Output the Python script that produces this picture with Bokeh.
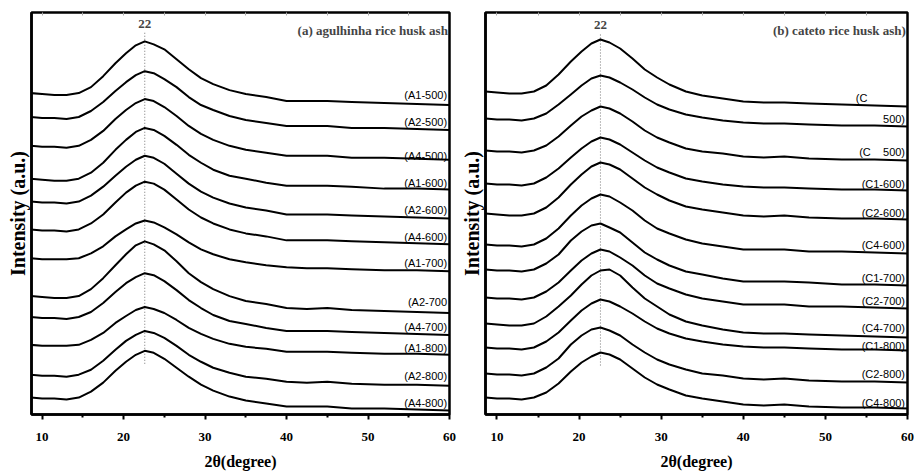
from bokeh.plotting import figure
from bokeh.layouts import row
from bokeh.models import Range1d, FixedTicker, LinearAxis, Label
from bokeh.core.properties import value
from bokeh.embed import file_html
from bokeh.resources import INLINE

# ---------------- data (intensity in arbitrary units, curves stacked) ----------------
two_theta = [8.6, 10, 11.5, 13, 14.5, 16, 17.5, 19, 20.3, 21.5, 22.6, 23.7, 25, 26.5,
             28, 29.5, 31, 33, 35, 37.5, 40, 42.5, 45, 48, 52, 56, 60]
x_ticks = [10, 20, 30, 40, 50, 60]
x_minor = [15, 25, 35, 45, 55]
top_ticks = [10, 15, 20, 25, 30, 35, 40, 45, 50, 55]
peak_pos = 22.6

A1_500 = [327, 326, 325, 325, 327, 333, 344, 357, 367, 375, 379, 376, 371, 361, 351, 342, 336, 330, 326, 323, 319, 319, 319, 318, 317, 316, 315]
A2_500 = [303, 302, 302, 301, 303, 309, 318, 329, 338, 345, 349, 347, 341, 333, 323, 315, 310, 304, 300, 297, 294, 294, 294, 292, 292, 291, 290]
A4_500 = [274, 273, 273, 272, 274, 280, 289, 301, 310, 317, 321, 319, 313, 304, 294, 286, 280, 274, 270, 267, 264, 264, 264, 262, 262, 261, 260]
A1_600 = [241, 240, 239, 239, 241, 247, 257, 270, 280, 288, 292, 290, 284, 275, 265, 257, 250, 244, 241, 237, 234, 234, 234, 233, 231, 231, 230]
A2_600 = [218, 217, 217, 216, 218, 224, 233, 244, 253, 260, 264, 262, 256, 246, 236, 228, 222, 216, 212, 209, 205, 205, 205, 204, 203, 202, 201]
A4_600 = [190, 189, 189, 188, 190, 196, 205, 217, 227, 234, 238, 236, 230, 220, 210, 202, 196, 190, 186, 183, 179, 179, 179, 178, 177, 176, 175]
A1_700 = [161, 160, 160, 160, 161, 166, 173, 183, 190, 196, 199, 197, 192, 185, 177, 170, 165, 160, 157, 154, 152, 151, 151, 150, 149, 149, 148]
A2_700 = [123, 122, 121, 121, 123, 130, 141, 154, 165, 174, 178, 175, 169, 158, 146, 137, 130, 123, 118, 115, 111, 110, 111, 109, 108, 107, 106]
A4_700 = [102, 101, 101, 100, 102, 107, 116, 127, 136, 142, 146, 144, 138, 129, 119, 111, 104, 98, 95, 91, 88, 88, 88, 87, 86, 85, 84]
A1_800 = [74, 73, 73, 73, 74, 79, 86, 96, 103, 109, 112, 110, 106, 99, 91, 85, 80, 75, 72, 70, 67, 67, 67, 66, 65, 65, 64]
A2_800 = [44, 43, 43, 42, 44, 49, 58, 69, 78, 84, 88, 86, 81, 73, 64, 57, 51, 46, 42, 40, 37, 36, 37, 35, 34, 34, 33]
A4_800 = [21, 20, 20, 19, 21, 27, 36, 48, 57, 64, 68, 66, 60, 51, 42, 34, 28, 22, 18, 15, 12, 12, 12, 10, 10, 9, 8]

C1_500 = [329, 328, 327, 327, 329, 335, 346, 359, 369, 377, 381, 378, 372, 362, 351, 343, 336, 329, 325, 322, 319, 318, 318, 317, 316, 315, 314]
C2_500 = [302, 301, 301, 300, 302, 307, 316, 326, 335, 342, 345, 343, 338, 331, 323, 316, 311, 306, 303, 300, 298, 297, 297, 296, 295, 295, 294]
C4_500 = [270, 269, 269, 268, 270, 275, 284, 295, 304, 310, 314, 312, 307, 299, 290, 283, 278, 272, 269, 267, 264, 263, 264, 262, 261, 261, 260]
C1_600 = [237, 236, 236, 235, 237, 243, 252, 263, 272, 279, 283, 281, 276, 268, 260, 253, 248, 242, 239, 236, 234, 233, 233, 232, 231, 231, 230]
C2_600 = [207, 206, 205, 205, 207, 213, 223, 236, 246, 254, 258, 256, 251, 242, 233, 226, 220, 214, 211, 208, 205, 204, 205, 203, 202, 202, 201]
C4_600 = [176, 175, 175, 174, 176, 182, 192, 205, 215, 222, 226, 224, 218, 210, 200, 192, 187, 181, 177, 174, 171, 171, 171, 169, 169, 168, 167]
C1_700 = [151, 150, 150, 149, 151, 157, 166, 180, 189, 195, 197, 193, 188, 178, 168, 161, 155, 149, 146, 142, 139, 139, 139, 138, 136, 136, 135]
C2_700 = [123, 122, 122, 121, 123, 129, 138, 150, 160, 167, 171, 169, 163, 155, 145, 137, 132, 126, 122, 119, 116, 116, 116, 114, 114, 113, 112]
C4_700 = [97, 96, 95, 95, 97, 104, 114, 125, 136, 145, 150, 151, 145, 133, 122, 114, 106, 99, 95, 91, 88, 87, 87, 86, 85, 84, 83]
C1_800 = [73, 72, 72, 71, 73, 79, 88, 100, 110, 117, 121, 119, 114, 107, 99, 92, 87, 82, 79, 76, 74, 73, 73, 72, 71, 71, 70]
C2_800 = [47, 46, 46, 45, 47, 53, 62, 76, 85, 91, 93, 90, 85, 76, 68, 61, 56, 51, 47, 45, 42, 41, 42, 40, 39, 39, 38]
C4_800 = [23, 22, 22, 21, 23, 28, 37, 49, 58, 64, 68, 66, 61, 52, 43, 36, 31, 25, 22, 19, 16, 15, 16, 14, 13, 13, 12]

curves_a = [A1_500, A2_500, A4_500, A1_600, A2_600, A4_600,
            A1_700, A2_700, A4_700, A1_800, A2_800, A4_800]
labels_a = ["(A1-500)", "(A2-500)", "(A4-500)", "(A1-600)", "(A2-600)", "(A4-600)",
            "(A1-700)", "(A2-700", "(A4-700)", "(A1-800)", "(A2-800)", "(A4-800)"]
curves_b = [C1_500, C2_500, C4_500, C1_600, C2_600, C4_600,
            C1_700, C2_700, C4_700, C1_800, C2_800, C4_800]
labels_b = ["(C", "500)", "(C\u00a0\u00a0\u00a0\u00a0500)", "(C1-600)", "(C2-600)", "(C4-600)",
            "(C1-700)", "(C2-700)", "(C4-700)", "(C1-800)", "(C2-800)", "(C4-800)"]

# label lift above the curve end (screen px, style)
lift_a = [10, 7.5, 4, 7, 9, 7.5, 8, 11, 8, 7, 9.5, 8]
lift_b = [9, 8, 9, 7, 7, 9, 8, 8, 10, 5, 9, 6]

SERIF = "Liberation Serif"
LABEL_FONT = "Liberation Sans"


def make_panel(curves, labels, lifts, title, x_lo, y_lo, left_border, right_border,
               bottom_border, width):
    p = figure(width=width, height=473, x_range=Range1d(x_lo, 60),
               y_range=Range1d(y_lo, 408), output_backend="svg",
               toolbar_location=None, min_border_left=left_border,
               min_border_right=right_border, min_border_top=12,
               min_border_bottom=bottom_border)
    p.xgrid.visible = False
    p.ygrid.visible = False
    p.outline_line_color = "black"
    p.outline_line_width = 2.5
    p.background_fill_color = "white"
    p.border_fill_color = "white"

    xa = p.xaxis[0]
    xa.ticker = FixedTicker(ticks=x_ticks, minor_ticks=x_minor)
    xa.axis_line_width = 2.5
    xa.major_tick_line_width = 2
    xa.minor_tick_line_width = 2
    xa.major_tick_in = 0
    xa.major_tick_out = 5
    xa.minor_tick_in = 0
    xa.minor_tick_out = 3
    xa.major_label_standoff = 13
    xa.major_label_text_font = SERIF
    xa.major_label_text_font_style = "bold"
    xa.major_label_text_font_size = "13px"
    xa.major_label_text_color = "black"
    xa.axis_label = "2\u03b8(degree)"
    xa.axis_label_text_font = SERIF
    xa.axis_label_text_font_style = "bold"
    xa.axis_label_text_font_size = "16px"
    xa.axis_label_text_color = "black"
    xa.axis_label_standoff = 9

    ya = p.yaxis[0]
    ya.ticker = FixedTicker(ticks=[])
    ya.major_tick_out = 0
    ya.major_tick_in = 0
    ya.minor_tick_out = 0
    ya.major_label_standoff = 0
    ya.axis_line_width = 2.5
    ya.axis_label = "Intensity (a.u.)"
    ya.axis_label_text_font = SERIF
    ya.axis_label_text_font_style = "bold"
    ya.axis_label_text_font_size = "20px"
    ya.axis_label_text_color = "black"
    ya.axis_label_standoff = 3

    # faint inward ticks along the top edge (minor ticks only -> no tick labels)
    top = LinearAxis(ticker=FixedTicker(ticks=[], minor_ticks=top_ticks),
                     major_tick_in=0, major_tick_out=0, minor_tick_in=3,
                     minor_tick_out=0, major_label_standoff=0,
                     axis_line_color=None, minor_tick_line_color="#aaaaaa",
                     minor_tick_line_width=1)
    p.add_layout(top, "above")

    # dotted reference line at the amorphous silica hump
    p.line([peak_pos, peak_pos], [55, 388], line_color="#777777", line_width=1,
           line_dash="1 2")

    for ys in curves:
        p.line(two_theta, ys, line_color="black", line_width=2, line_join="round")

    # sample labels (right aligned at the end of each curve)
    rx, ry, rt = [], [], []
    for ys, lab, lf in zip(curves, labels, lifts):
        if lab == "(C":
            p.text(x=[53.7], y=[ys[-1] + lf], text=[lab], text_align="left",
                   text_baseline="middle", text_font=value(LABEL_FONT),
                   text_font_size="11px", text_color="black")
        else:
            rx.append(59.7)
            ry.append(ys[-1] + lf)
            rt.append(lab)
    p.text(x=rx, y=ry, text=rt, text_align="right", text_baseline="middle",
           text_font=value(LABEL_FONT), text_font_size="11px", text_color="black")

    p.add_layout(Label(x=peak_pos, y=396, text="22", text_align="center",
                       text_baseline="middle", text_font=SERIF,
                       text_font_style="bold", text_font_size="13px"))
    p.add_layout(Label(x=59.8, y=390, text=title, text_align="right",
                       text_baseline="middle", text_font=SERIF,
                       text_font_style="bold", text_font_size="13px"))
    return p


pa = make_panel(curves_a, labels_a, lift_a, "(a) agulhinha rice husk ash",
                8.7, 4, 31, 8, 57, 457)
pb = make_panel(curves_b, labels_b, lift_b, "(b) cateto rice husk ash)",
                8.6, 6, 27, 7, 59, 457)

layout = row(pa, pb)
open("out.html", "w").write(file_html(layout, INLINE))
